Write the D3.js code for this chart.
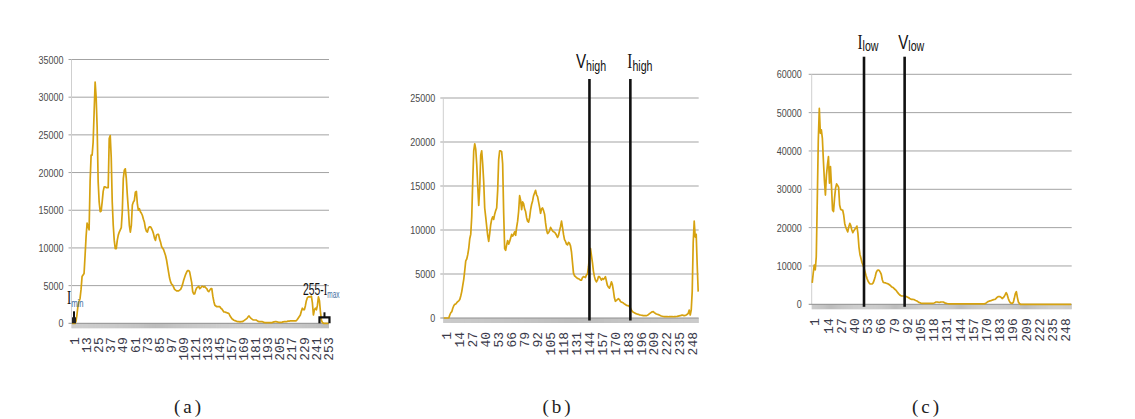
<!DOCTYPE html>
<html>
<head>
<meta charset="utf-8">
<title>Histograms (a) (b) (c)</title>
<script src="https://d3js.org/d3.v7.min.js"></script>
<style>
  body { margin: 0; background: #fff; }
  svg { display: block; }
</style>
</head>
<body>
<div id="container"></div>
<script>
// Data
const categories = d3.range(1, 257);
const ticksA = [1, 13, 25, 37, 49, 61, 73, 85, 97, 109, 121, 133, 145, 157, 169, 181, 193, 205, 217, 229, 241, 253];
const ticksBC = [1, 14, 27, 40, 53, 66, 79, 92, 105, 118, 131, 144, 157, 170, 183, 196, 209, 222, 235, 248];

const valuesA = [
  0, 0, 0, 0, 300, 1200, 2400, 2900, 3300, 4500, 6200, 6400, 6600, 9000, 11500, 13300,
  12800, 12400, 18800, 22300, 22300, 24000, 28000, 32000, 30000, 26000, 18800, 16100, 14800, 14900, 16100, 17500,
  18100, 18100, 18000, 18000, 18000, 24500, 24900, 22000, 16100, 13000, 11000, 9900, 9900, 11000, 11700, 12100,
  12400, 12700, 14800, 19200, 20300, 20500, 19200, 17000, 15200, 13000, 12100, 13000, 15700, 16100, 16300, 17400,
  17500, 15800, 15000, 15200, 14800, 14600, 14300, 13800, 13400, 12600, 12200, 12100, 12600, 12800, 12800, 12600,
  12300, 11900, 11300, 11000, 11700, 11800, 11800, 11200, 10800, 10200, 10000, 9800, 9400, 9000, 8400, 7600,
  6800, 6000, 5500, 5200, 5100, 4800, 4500, 4400, 4300, 4300, 4300, 4400, 4500, 4800, 5200, 5700,
  6100, 6500, 6800, 7000, 7000, 6800, 6100, 5400, 4200, 3900, 3900, 4400, 4700, 4800, 4900, 4600,
  4700, 4900, 4900, 4800, 4900, 4700, 4600, 4300, 4200, 4400, 4600, 4600, 3600, 2900, 2400, 2300,
  2200, 2200, 2200, 2200, 2000, 1900, 1700, 1500, 1500, 1450, 1400, 1350, 1300, 1000, 800, 600,
  500, 400, 350, 300, 250, 220, 220, 200, 220, 220, 250, 350, 450, 550, 650, 850,
  970, 800, 660, 550, 450, 440, 440, 440, 350, 250, 220, 220, 220, 220, 180, 120,
  80, 80, 80, 80, 80, 80, 80, 100, 150, 200, 220, 220, 180, 150, 130, 130,
  130, 150, 200, 220, 220, 220, 250, 300, 300, 310, 310, 310, 310, 310, 310, 350,
  500, 700, 900, 1100, 1600, 2000, 1800, 1800, 2300, 3000, 3400, 3500, 3500, 3500, 3600, 2700,
  1100, 1800, 2000, 1800, 2400, 3500, 3000, 1500, 400, 100, 0, 0, 0, 0, 0, 0
];

const valuesB = [
  0, 0, 0, 0, 0, 0, 340, 600, 720, 1100, 1400, 1550, 1600, 1740, 1850, 1950,
  2100, 2500, 3000, 3700, 4400, 5400, 6500, 6700, 7200, 7900, 9000, 9500, 11500, 15500, 19000, 19800,
  19200, 17500, 15000, 12800, 14800, 18500, 19000, 17500, 15500, 12500, 11500, 10400, 9400, 8700, 9600, 10600,
  11200, 11500, 11200, 11800, 12200, 12500, 14500, 18000, 19000, 19000, 18900, 17500, 12000, 7900, 7700, 8300,
  8800, 8400, 8700, 9100, 9500, 9300, 9500, 9800, 9400, 10300, 11000, 12100, 13900, 13400, 12300, 13200,
  13000, 12400, 12100, 11400, 11000, 10900, 11400, 12300, 12900, 13300, 13900, 14200, 14500, 14000, 13800, 13200,
  12600, 11900, 12400, 12500, 12200, 11800, 10800, 10000, 9600, 9700, 9900, 10300, 10100, 9900, 9800, 9750,
  9600, 9400, 9150, 9400, 9900, 10400, 11000, 10300, 9500, 8900, 8700, 8400, 8300, 8600, 8500, 8200,
  7500, 6300, 5100, 4800, 4700, 4600, 4500, 4450, 4400, 4300, 4300, 4600, 4700, 4650, 4600, 4900,
  5000, 5800, 7000, 7900, 7100, 6300, 5300, 4700, 4300, 4100, 4300, 4700, 4700, 4500, 4300, 4500,
  4400, 4500, 4700, 4200, 3700, 3500, 3400, 3700, 4100, 3800, 3100, 2300, 1900, 2000, 2100, 2200,
  2100, 1900, 1800, 1780, 1700, 1600, 1550, 1450, 1400, 1400, 1300, 1150, 900, 750, 650, 600,
  520, 480, 440, 420, 360, 340, 310, 290, 270, 260, 260, 270, 320, 380, 480, 560,
  640, 700, 720, 620, 530, 460, 420, 380, 340, 280, 230, 200, 170, 150, 150, 160,
  150, 140, 150, 160, 150, 150, 140, 150, 160, 170, 190, 220, 240, 260, 300, 340,
  300, 260, 300, 340, 420, 530, 900, 340, 900, 3000, 8600, 11000, 9200, 9500, 6000, 3000
];

const valuesC = [
  5600, 8100, 10200, 9000, 12400, 27200, 42900, 51100, 44600, 45500, 43300, 37600, 32400, 28500, 33700, 36300,
  38500, 31600, 35900, 30700, 24600, 24200, 27700, 30300, 31400, 31000, 30500, 25900, 24800, 24600, 24600, 23300,
  21100, 20100, 19500, 18900, 20200, 21100, 20500, 19400, 18700, 19200, 19600, 19900, 20400, 18500, 15000, 13000,
  12000, 10900, 10200, 9500, 8500, 7500, 6700, 6000, 5600, 5300, 5300, 5300, 5600, 6300, 7200, 8300,
  8800, 8950, 8800, 8400, 7800, 6400, 5700, 5640, 5600, 5480, 5400, 5300, 5100, 4900, 4600, 4450,
  4300, 4000, 3800, 3500, 3100, 2800, 2500, 2300, 2170, 2170, 2170, 2170, 2100, 1980, 1850, 1700,
  1500, 1350, 1290, 1290, 1250, 1120, 1000, 900, 700, 500, 400, 300, 260, 260, 260, 260,
  260, 260, 260, 260, 260, 260, 260, 260, 350, 450, 600, 600, 550, 520, 550, 600,
  600, 600, 450, 300, 260, 200, 150, 100, 90, 90, 90, 90, 90, 90, 90, 90,
  90, 90, 90, 90, 90, 90, 90, 90, 90, 90, 90, 90, 90, 90, 90, 90,
  90, 90, 90, 90, 90, 90, 90, 90, 90, 90, 170, 300, 500, 690, 800, 900,
  950, 1050, 1150, 1250, 1300, 1500, 1800, 2000, 2000, 2000, 1800, 1500, 1700, 2000, 2500, 3040,
  2500, 1560, 900, 430, 300, 260, 500, 1560, 2800, 3300, 1820, 600, 200, 0, 0, 0,
  0, 0, 0, 0, 0, 0, 0, 0, 0, 0, 0, 0, 0, 0, 0, 0,
  0, 0, 0, 0, 0, 0, 0, 0, 0, 0, 0, 0, 0, 0, 0, 0,
  0, 0, 0, 0, 0, 0, 0, 0, 0, 0, 0, 0, 0, 0, 0, 0
];

// threshold lines: category index, letter, subscript
const thresholdsB = [{ cat: 147, letter: "V", sub: "high" }, { cat: 188, letter: "I", sub: "high" }];
const thresholdsC = [{ cat: 52, letter: "I", sub: "low" }, { cat: 92, letter: "V", sub: "low" }];
const captions = ["(a)", "(b)", "(c)"];

// Layout
const panels = [
  { values: valuesA, ticks: ticksA, max: 35000, step: 5000, left: 71.5, right: 329, top: 59.5, bottom: 323.3, gap: 8, capX: 189 },
  { values: valuesB, ticks: ticksBC, max: 25000, step: 5000, left: 443.3, right: 698.7, top: 98, bottom: 318, gap: 8, capX: 558,
    marks: thresholdsB, markTop: 79, labelY: 67.5, subDy: 3.5, labelDx: [-13.5, -3] },
  { values: valuesC, ticks: ticksBC, max: 60000, step: 10000, left: 811.7, right: 1071.7, top: 74.3, bottom: 304.3, gap: 10, capX: 927,
    marks: thresholdsC, markTop: 56.7, labelY: 48.5, subDy: 2.5, labelDx: [-6.5, -6.5] }
];

const sans = "'Liberation Sans', Arial, sans-serif";
const serif = "'Liberation Serif', serif";
const lineColor = "#d6a210";
const subColor = "#3f6f9f";

const svg = d3.select("#container")
  .append("svg")
  .attr("width", 1135)
  .attr("height", 419);

// one text made of a main part and a subscript, squeezed horizontally
// (the source uses a condensed face)
function subLabel(g, x, y, sx, parts) {
  const t = g.append("text")
    .attr("transform", `translate(${x},${y}) scale(${sx},1)`);
  parts.forEach(part => {
    t.append("tspan")
      .attr("dy", part.dy || 0)
      .style("font-family", part.family)
      .style("font-size", part.size + "px")
      .attr("fill", part.fill || "#111")
      .text(part.text);
  });
  return t;
}

panels.forEach((p, k) => {
  const x = d3.scaleBand().domain(categories).range([p.left, p.right]).padding(0);
  const cx = d => x(d) + x.bandwidth() / 2;
  const y = d3.scaleLinear().domain([0, p.max]).range([p.bottom, p.top]);
  const yTicks = d3.range(0, p.max + 1, p.step);
  const g = svg.append("g");

  // gridlines
  g.selectAll(".grid")
    .data(yTicks.filter(d => d > 0))
    .enter().append("line")
    .attr("x1", p.left - 3).attr("x2", p.right)
    .attr("y1", d => y(d)).attr("y2", d => y(d))
    .attr("stroke", "#a3a3a3").attr("stroke-width", 1);

  // y axis line
  g.append("line")
    .attr("x1", p.left).attr("x2", p.left)
    .attr("y1", p.top).attr("y2", p.bottom)
    .attr("stroke", "#cfcfcf");

  // y labels
  g.selectAll(".ylab")
    .data(yTicks)
    .enter().append("text")
    .attr("x", p.left - p.gap)
    .attr("y", d => y(d))
    .attr("dy", "0.36em")
    .attr("text-anchor", "end")
    .attr("textLength", d => String(d).length * 5)
    .attr("lengthAdjust", "spacingAndGlyphs")
    .style("font-family", sans)
    .style("font-size", "11.5px")
    .attr("fill", "#4a4a4a")
    .text(d => d);

  // dense category ticks (grey strip under the axis)
  g.selectAll(".xtick")
    .data(categories)
    .enter().append("line")
    .attr("x1", cx).attr("x2", cx)
    .attr("y1", p.bottom).attr("y2", p.bottom + 5)
    .attr("stroke", "#bdbdbd").attr("stroke-width", 1);

  // x axis line
  g.append("line")
    .attr("x1", p.left - 3).attr("x2", p.right)
    .attr("y1", p.bottom).attr("y2", p.bottom)
    .attr("stroke", "#8f8f8f");

  // x labels, rotated
  g.selectAll(".xlab")
    .data(p.ticks)
    .enter().append("text")
    .attr("transform", d => `translate(${cx(d) + 2.5},${p.bottom + 14}) rotate(-90)`)
    .attr("text-anchor", "end")
    .attr("dy", "0.36em")
    .style("font-family", "'Liberation Mono', 'DejaVu Sans Mono', monospace")
    .style("font-size", "13px")
    .attr("fill", "#3a3a4a")
    .text(d => d);

  // histogram line
  const line = d3.line()
    .x((d, i) => cx(categories[i]))
    .y(d => y(d));

  g.append("path")
    .datum(p.values)
    .attr("d", line)
    .attr("fill", "none")
    .attr("stroke", lineColor)
    .attr("stroke-width", 1.7)
    .attr("stroke-linejoin", "round");

  // threshold lines with labels
  if (p.marks) {
    p.marks.forEach((m, j) => {
      g.append("line")
        .attr("x1", cx(m.cat)).attr("x2", cx(m.cat))
        .attr("y1", p.markTop).attr("y2", p.bottom + 2.5)
        .attr("stroke", "#111").attr("stroke-width", 2.6);

      subLabel(g, cx(m.cat) + p.labelDx[j], p.labelY, 0.76, [
        { text: m.letter, size: 20, family: m.letter === "I" ? serif : sans },
        { text: m.sub, size: 14, family: sans, dy: p.subDy }
      ]);
    });
  }

  // caption
  svg.append("text")
    .attr("x", p.capX)
    .attr("y", 413)
    .attr("text-anchor", "middle")
    .style("font-family", serif)
    .style("font-size", "19px")
    .style("letter-spacing", "3px")
    .attr("fill", "#222")
    .text(captions[k]);

  // extra annotations for panel (a): I_min and 255-I_max markers
  if (k === 0) {
    const xMin = cx(3);
    g.append("line")
      .attr("x1", xMin).attr("x2", xMin)
      .attr("y1", p.bottom - 12).attr("y2", p.bottom - 5)
      .attr("stroke", "#111").attr("stroke-width", 2);
    g.append("rect")
      .attr("x", xMin - 2).attr("y", p.bottom - 6)
      .attr("width", 4).attr("height", 6)
      .attr("fill", "#222");

    const xMax = cx(252);
    g.append("path")
      .attr("d", `M${xMax - 5},${p.bottom} V${p.bottom - 6} H${xMax + 5} V${p.bottom}`)
      .attr("fill", "none").attr("stroke", "#111").attr("stroke-width", 2.2);
    g.append("line")
      .attr("x1", xMax).attr("x2", xMax)
      .attr("y1", p.bottom - 11).attr("y2", p.bottom - 6)
      .attr("stroke", "#111").attr("stroke-width", 2);

    subLabel(g, 67, 304, 0.7, [
      { text: "I", size: 18, family: serif },
      { text: "min", size: 11, family: sans, dy: 2.5, fill: subColor }
    ]);
    subLabel(g, 303, 295, 0.65, [
      { text: "255-", size: 16, family: sans },
      { text: "I", size: 16, family: serif },
      { text: "max", size: 10, family: sans, dy: 2.5, fill: subColor }
    ]);
  }
});
</script>
</body>
</html>
